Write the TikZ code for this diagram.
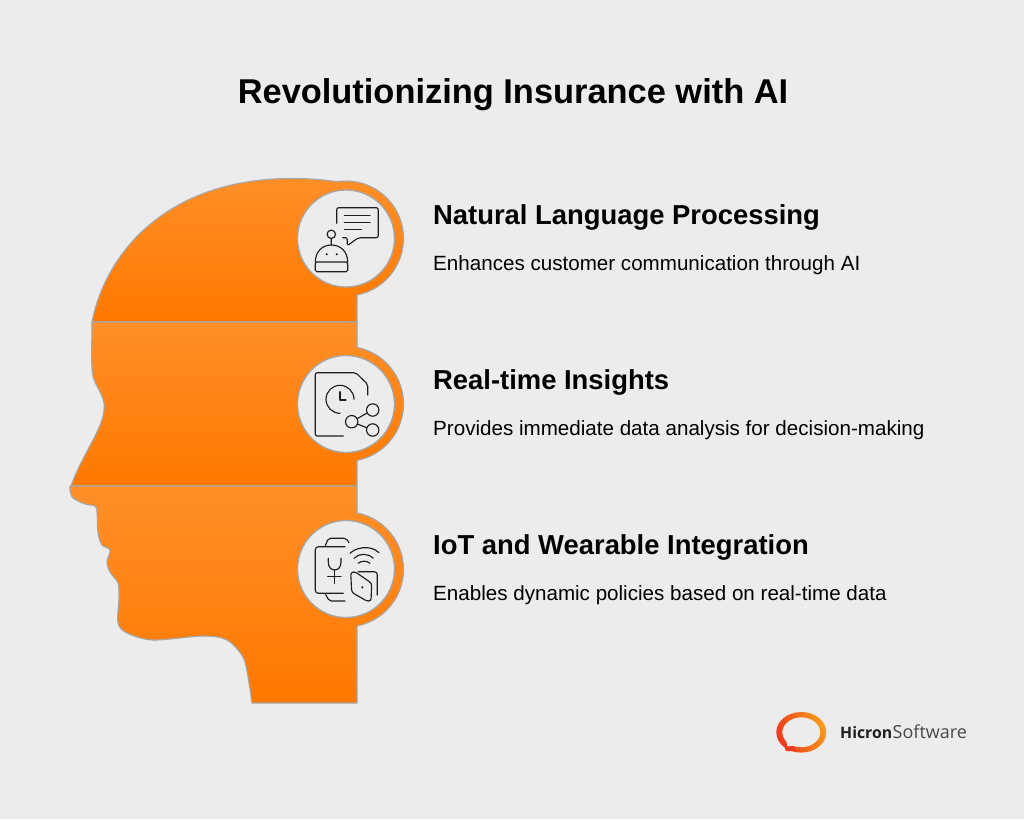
\documentclass[tikz,border=0pt]{standalone}
\usepackage{fontspec}
\setmainfont{Liberation Sans}
\newfontfamily\logofont{Open Sans}
\definecolor{backcol}{HTML}{ECECEC}
\definecolor{edgecol}{HTML}{A6A6A6}
\definecolor{headtop}{HTML}{FF8F28}
\definecolor{headbot}{HTML}{FF7800}
\definecolor{iconcol}{HTML}{1E1E1E}
\definecolor{logored}{HTML}{EE3A1E}
\definecolor{logoorg}{HTML}{F99B1C}
\tikzset{
	headpart/.style={draw=edgecol, line width=1.1pt, top color=headtop, bottom color=headbot, line join=round},
	iconcirc/.style={draw=edgecol, line width=1.3pt, fill=backcol},
	iconline/.style={draw=iconcol, line width=1.15pt, line cap=round, line join=round},
	titletxt/.style={anchor=base, inner sep=0pt, font=\fontsize{34.4}{36}\selectfont\bfseries},
	headtxt/.style={anchor=base west, inner sep=0pt, font=\fontsize{27.4}{30}\selectfont\bfseries},
	bodytxt/.style={anchor=base west, inner sep=0pt, font=\fontsize{20.6}{22}\selectfont},
}
\begin{document}
\begin{tikzpicture}[x=1pt,y=-1pt]
	\fill[backcol] (0,0) rectangle (1024,819);
	\useasboundingbox (0,0) rectangle (1024,819);

	\path[headpart] (92,322) .. controls (105,255) and (165,178) .. (293,178.5) .. controls (310,178.5) and (325,180) .. (337,181.7)
		arc[start angle=99, end angle=-79, radius=57.5pt] -- (357,322) -- cycle;
	\path[headpart] (92,322) -- (357,322) -- (357,347.5)
		arc[start angle=79, end angle=-79, radius=57.5pt] -- (357,486) -- (71,486)
		.. controls (78,466) and (90,447) .. (97,432) .. controls (103,420) and (105,410) .. (104,403) .. controls (102,392) and (94,384) .. (92.5,374) .. controls (91,362) and (92,340) .. (92,322) -- cycle;
	\path[headpart] (70,486) -- (357,486) -- (357,513)
		arc[start angle=79, end angle=-79, radius=57.5pt] -- (357,703) -- (252,703)
		-- plot[smooth, tension=0.5] coordinates {(252,703) (248,677) (243,657) (227,640) (203,636) (153,640) (127,633) (118,623) (119,597) (118,583) (110,572) (107,562) (110,550) (102,545) (98,533) (97,512) (95,506) (85,504) (73,498) (70,490) (70,486)} -- cycle;

	\draw[iconcirc] (346,238.5) circle[radius=48.5pt];
	\draw[iconcirc] (346,404) circle[radius=48.5pt];
	\draw[iconcirc] (346,569) circle[radius=48.5pt];

	\draw[iconline, rounded corners=2pt] (336.7,223.3) -- (336.7,207.7) -- (378.3,207.7) -- (378.3,237.7) -- (358.3,237.7) -- (347.3,245.7) -- (347.3,237.7) -- (342.7,237.7);
	\draw[iconline] (344.3,215.7) -- (370,215.7) (344.3,222.7) -- (370,222.7) (344.3,229.7) -- (361.3,229.7);
	\draw[iconline] (331.3,234.3) circle[radius=4.2pt] (331.3,238.5) -- (331.3,245);
	\draw[iconline] (315.3,262) .. controls (315.3,252) and (322,245) .. (331.3,245) .. controls (341,245) and (347.7,252) .. (347.7,262);
	\draw[iconline, rounded corners=1.5pt] (315.3,262) rectangle (347.7,271.7);
	\fill[iconcol] (326.7,254.3) circle[radius=1.1pt] (336.7,254.3) circle[radius=1.1pt];

	\draw[iconline, rounded corners=2pt] (343.3,436) -- (315.3,436) -- (315.3,372.7) -- (355.7,372.7) -- (367.7,384.3) -- (367.7,395);
	\draw[iconline] (354,399.3) arc[start angle=0, end angle=270, radius=14pt];
	\draw[iconline] (340,391.7) -- (340,400) -- (346,400);
	\draw[iconline] (372.7,410) circle[radius=6.2pt] (351.7,421.7) circle[radius=6.2pt] (372.7,430) circle[radius=6.2pt];
	\draw[iconline] (357.2,418.6) -- (367.2,413) (357.4,424) -- (366.9,427.8);

	\draw[iconline, rounded corners=3pt] (345,546.7) -- (315.3,546.7) -- (315.3,593.3) -- (343.3,593.3);
	\draw[iconline, rounded corners=2pt] (325,546.7) -- (328.3,538.3) -- (346,538.3) -- (349,542.5);
	\draw[iconline, rounded corners=2pt] (325,593.3) -- (329.3,601) -- (345,601);
	\draw[iconline] (328.3,558.3) -- (328.3,562) .. controls (328.3,567) and (331,570) .. (334.7,570) .. controls (338.3,570) and (341,567) .. (341,562) -- (341,558.3);
	\draw[iconline] (334.7,570) -- (334.7,583.3) (327.7,576.7) -- (341,576.7);
	\draw[iconline] (350,553.3) .. controls (355,548) and (370,544) .. (379,552.7);
	\draw[iconline] (354,558.3) .. controls (359,553) and (368,553) .. (373.3,558.3);
	\draw[iconline] (358.3,563.3) .. controls (361,560.5) and (367,560.5) .. (370,563.3);
	\draw[iconline, rounded corners=2.5pt] (350.7,572.5) -- (355,571.7) -- (371.7,583.3) -- (371,601) -- (366.7,601) -- (351.7,592.3) -- cycle;
	\fill[iconcol] (362.3,587.3) circle[radius=1.2pt];
	\draw[iconline, rounded corners=3pt] (358.3,571.7) -- (377.3,571.7) -- (377.3,595);

	\draw
	node[titletxt] at (513,103) (title) {Revolutionizing Insurance with AI}
	node[headtxt] at (433,224) (nlphead) {Natural Language Processing}
	node[bodytxt] at (433,270) (nlpbody) {Enhances customer communication through AI}
	node[headtxt] at (433,389) (rtihead) {Real-time Insights}
	node[bodytxt] at (433,435) (rtibody) {Provides immediate data analysis for decision-making}
	node[headtxt] at (433,554) (iothead) {IoT and Wearable Integration}
	node[bodytxt] at (433,600) (iotbody) {Enables dynamic policies based on real-time data};

	\path[left color=logored, right color=logoorg, shading angle=110, even odd rule] (801.3,732.3) circle[x radius=25pt, y radius=20.3pt] (801.3,732.3) circle[x radius=19pt, y radius=15pt];
	\fill[logored] (782,741) -- (786,751) -- (798,751) -- cycle;
	\fill[backcol] (786,740) -- (787.5,746.5) -- (793,745.5) -- cycle;
	\draw
	node[anchor=base west, inner sep=0pt, text=black!88, font=\logofont\fontsize{15.8}{20}\selectfont\bfseries] at (840,738) (logohi) {Hicron}
	node[anchor=base west, inner sep=0pt, text=black!72, font=\logofont\fontsize{18}{20}\selectfont] at (logohi.base east) (logosw) {Software};
\end{tikzpicture}
\end{document}
